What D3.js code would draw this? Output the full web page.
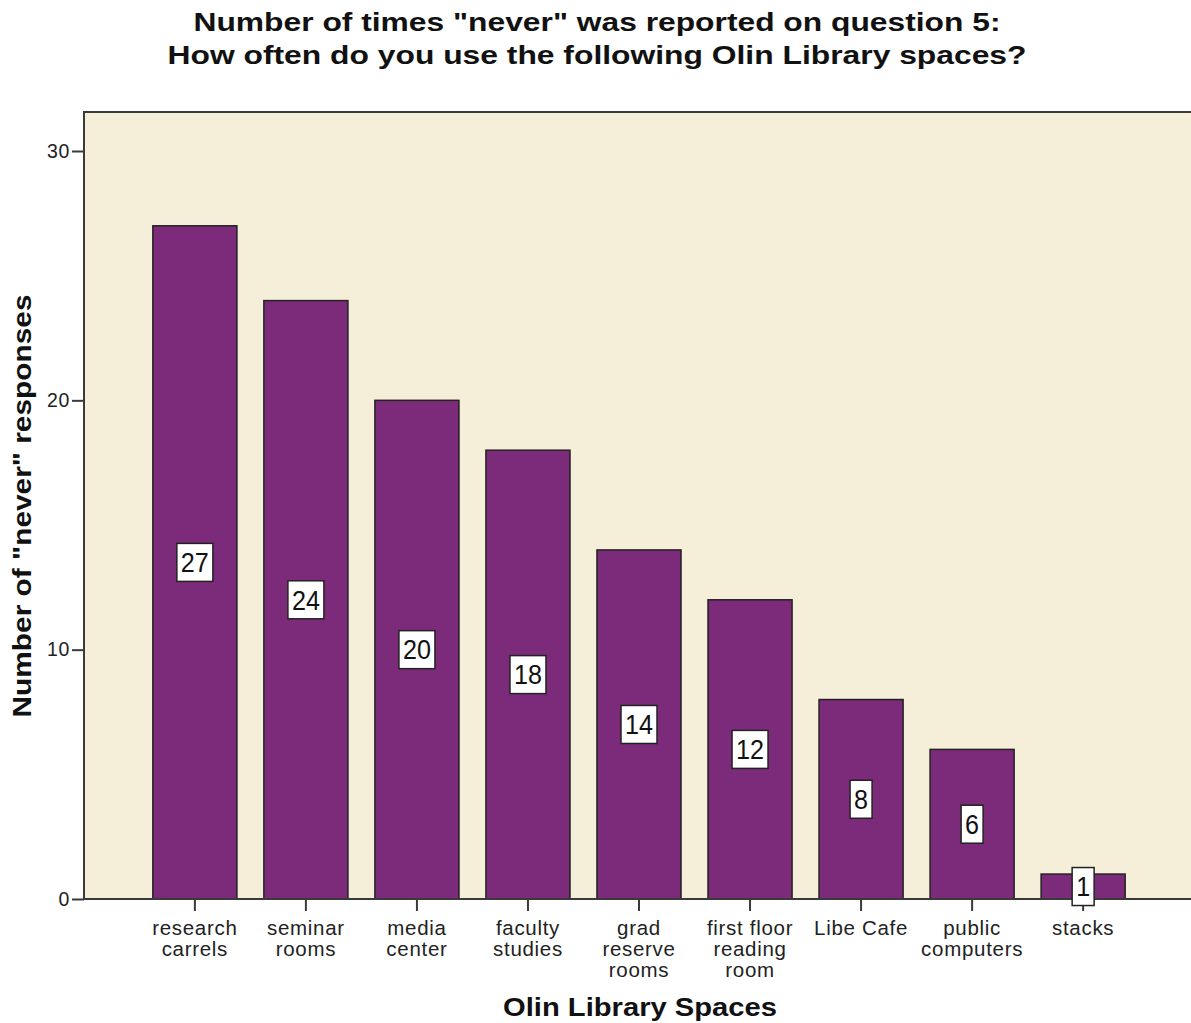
<!DOCTYPE html>
<html><head><meta charset="utf-8">
<script src="https://cdn.jsdelivr.net/npm/d3@7"></script>
<style>
html,body{margin:0;padding:0;background:#fff;overflow:hidden;}
text{font-family:"Liberation Sans",Arial,sans-serif;}
</style></head>
<body>
<svg id="chart" width="1191" height="1023"></svg>
<script>
const categories = [["research","carrels"],["seminar","rooms"],["media","center"],["faculty","studies"],["grad","reserve","rooms"],["first floor","reading","room"],["Libe Cafe"],["public","computers"],["stacks"]];
const values = [27,24,20,18,14,12,8,6,1];
const yTicks = [0,10,20,30];
const titleLines = ["Number of times \"never\" was reported on question 5:","How often do you use the following Olin Library spaces?"];
const titleWidths = [807, 859];

const svg = d3.select("#chart");
const plot = {left:84, top:112, right:1194, bottom:899};

const x = d3.scaleBand().domain(categories.map((c,i)=>i)).range([plot.left, plot.right]).paddingInner(0.243).paddingOuter(0.62);
const y = d3.scaleLinear().domain([0,30]).range([plot.bottom, 151]);

// background
svg.append("rect").attr("x",plot.left).attr("y",plot.top).attr("width",plot.right-plot.left+10).attr("height",plot.bottom-plot.top)
  .attr("fill","#f5efda").attr("stroke","#3a3a3a").attr("stroke-width",2);

// bars
svg.selectAll("rect.bar").data(values).enter().append("rect").attr("class","bar")
  .attr("x",(d,i)=>x(i)).attr("width",x.bandwidth())
  .attr("y",d=>y(d)).attr("height",d=>y(0)-y(d))
  .attr("fill","#7c2a7a").attr("stroke","#222").attr("stroke-width",1.5);

// axes
const yAxis = svg.append("g").attr("transform",`translate(${plot.left},0)`)
  .call(d3.axisLeft(y).tickValues(yTicks).tickSize(12).tickPadding(2));
yAxis.select(".domain").remove();
yAxis.selectAll(".tick line").attr("stroke","#3a3a3a").attr("stroke-width",2);
yAxis.selectAll(".tick text").attr("font-size",19.5).attr("letter-spacing",0.6).attr("fill","#222").attr("font-family","Liberation Sans, Arial, sans-serif");

const xAxis = svg.append("g").attr("transform",`translate(0,${plot.bottom})`)
  .call(d3.axisBottom(x).tickSize(12).tickFormat(""));
xAxis.select(".domain").remove();
xAxis.selectAll(".tick line").attr("stroke","#3a3a3a").attr("stroke-width",2);
xAxis.selectAll(".tick").each(function(d){
  const t = d3.select(this).append("text").attr("fill","#222").attr("font-size",20.5).attr("letter-spacing",0.7).attr("text-anchor","middle")
    .attr("font-family","Liberation Sans, Arial, sans-serif");
  categories[d].forEach((line,k)=>{
    t.append("tspan").attr("x",0).attr("y",36+k*21).text(line);
  });
});

// baseline
svg.append("line").attr("x1",plot.left).attr("x2",1191).attr("y1",plot.bottom).attr("y2",plot.bottom)
  .attr("stroke","#3a3a3a").attr("stroke-width",2);

// value labels
const lbl = svg.selectAll("g.lbl").data(values).enter().append("g").attr("class","lbl")
  .attr("transform",(d,i)=>`translate(${x(i)+x.bandwidth()/2},${y(d/2)})`);
lbl.each(function(d){
  const g = d3.select(this);
  const t = g.append("text").text(d).attr("font-size",27).attr("text-anchor","middle").attr("dy","0.36em").attr("fill","#111")
    .attr("font-family","Liberation Sans, Arial, sans-serif").attr("textLength", String(d).length*14).attr("lengthAdjust","spacingAndGlyphs");
  const w = String(d).length*14 + 8;
  g.insert("rect","text").attr("x",-w/2).attr("y",-19).attr("width",w).attr("height",38)
    .attr("fill","#fff").attr("stroke","#222").attr("stroke-width",1.5);
});

// titles
svg.selectAll("text.title").data(titleLines).enter().append("text").attr("class","title")
  .attr("x",597).attr("y",(d,i)=>31+i*33).attr("text-anchor","middle")
  .attr("font-size",26).attr("font-weight","bold").attr("fill","#111")
  .attr("textLength",(d,i)=>titleWidths[i]).attr("lengthAdjust","spacingAndGlyphs").text(d=>d);

svg.append("text").attr("x",640).attr("y",1016).attr("text-anchor","middle")
  .attr("font-size",26).attr("font-weight","bold").attr("fill","#111")
  .attr("textLength",274).attr("lengthAdjust","spacingAndGlyphs").text("Olin Library Spaces");

svg.append("text").attr("transform","translate(31,506) rotate(-90)").attr("text-anchor","middle")
  .attr("font-size",26).attr("font-weight","bold").attr("fill","#111")
  .attr("textLength",423).attr("lengthAdjust","spacingAndGlyphs").text("Number of \"never\" responses");
</script>
</body></html>
